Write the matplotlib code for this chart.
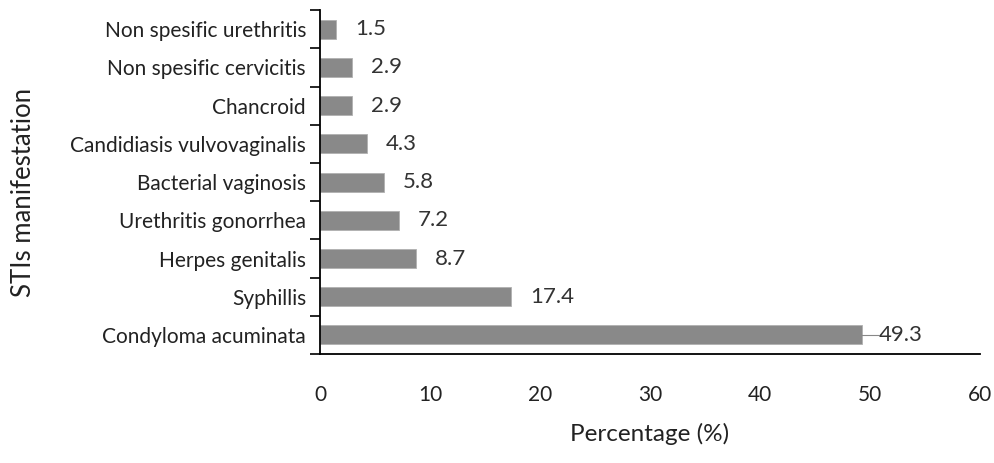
import numpy as np
import matplotlib.pyplot as plt
from matplotlib.ticker import FixedLocator

# STI manifestations, bottom to top as drawn
categories = ["Condyloma acuminata", "Syphillis", "Herpes genitalis",
              "Urethritis gonorrhea", "Bacterial vaginosis",
              "Candidiasis vulvovaginalis", "Chancroid",
              "Non spesific cervicitis", "Non spesific urethritis"]
percent = [49.3, 17.4, 8.7, 7.2, 5.8, 4.3, 2.9, 2.9, 1.5]
xticks = [0, 10, 20, 30, 40, 50, 60]

plt.rcParams['font.family'] = ['Lato', 'DejaVu Sans']

fig = plt.figure(figsize=(9.95, 4.63), dpi=100)
ax = fig.add_axes([0.3216, 0.2354, 0.6634, 0.7426])

y = np.arange(len(categories))
ax.barh(y, percent, height=0.5, color='#898989', edgecolor='#b0b0b0', linewidth=0.6)

ax.set_xlim(0, 60)
ax.set_ylim(-0.5, len(categories) - 0.5)
ax.set_xticks(xticks)
ax.set_xticklabels([str(v) for v in xticks], fontsize=15, color='#222222')
ax.tick_params(axis='x', length=0, pad=22)

# category labels without ticks, tick marks at the boundaries instead
ax.set_yticks(y)
ax.set_yticklabels(categories, fontsize=15, color='#222222')
ax.tick_params(axis='y', which='major', length=0, pad=10)
ax.yaxis.set_minor_locator(FixedLocator(np.arange(-0.5, len(categories), 1.0)))
ax.tick_params(axis='y', which='minor', length=7, width=1.2, color='black')

for s in ['top', 'right']:
    ax.spines[s].set_visible(False)
ax.spines['left'].set_linewidth(1.3)
ax.spines['bottom'].set_linewidth(1.3)

for yi, v in zip(y, percent):
    if v > 40:
        ax.plot([v, v + 1.4], [yi, yi], color='#888888', linewidth=0.8)
        ax.text(v + 1.5, yi, f"{v}", va='center', ha='left', fontsize=16, color='#333333')
    else:
        ax.text(v + 1.7, yi, f"{v}", va='center', ha='left', fontsize=16, color='#333333')

ax.set_xlabel("Percentage (%)", fontsize=17.5, color='#222222')
ax.xaxis.set_label_coords(0.5, -0.2)
ax.set_ylabel("STIs manifestation", fontsize=18.5, color='#222222')
ax.yaxis.set_label_coords(-0.43, 0.47)

fig.savefig("out.png", dpi=100)
